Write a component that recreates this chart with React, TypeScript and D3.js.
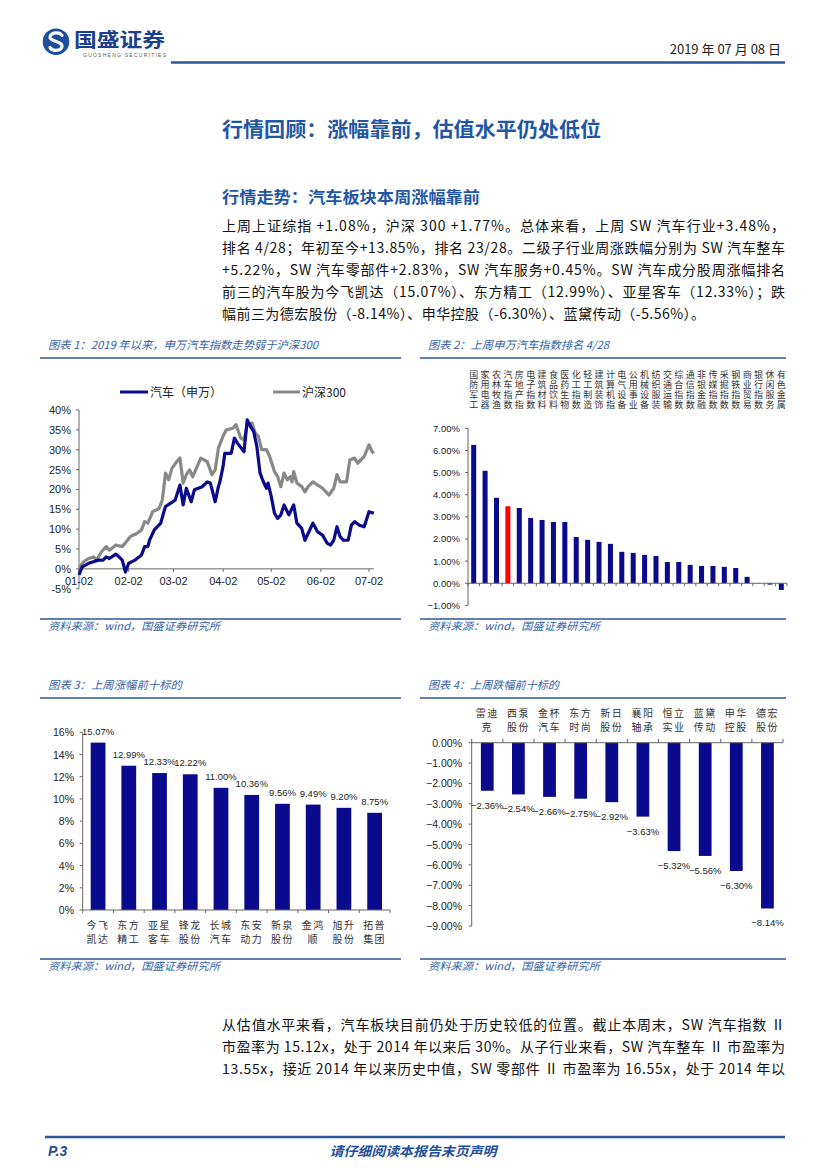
import React from 'react';
import * as d3 from 'd3';

// ---------- Chart 1 data ----------
const autoDates = ["2019-01-02","2019-01-04","2019-01-08","2019-01-11","2019-01-14","2019-01-17","2019-01-19","2019-01-21","2019-01-25","2019-01-27","2019-01-29","2019-01-31","2019-02-02","2019-02-06","2019-02-10","2019-02-12","2019-02-14","2019-02-15","2019-02-18","2019-02-22","2019-02-24","2019-02-25","2019-02-28","2019-03-03","2019-03-06","2019-03-08","2019-03-10","2019-03-13","2019-03-15","2019-03-20","2019-03-23","2019-03-25","2019-03-28","2019-03-30","2019-03-31","2019-04-02","2019-04-03","2019-04-07","2019-04-09","2019-04-11","2019-04-15","2019-04-17","2019-04-19","2019-04-21","2019-04-23","2019-04-25","2019-04-27","2019-04-29","2019-04-30","2019-05-02","2019-05-04","2019-05-06","2019-05-08","2019-05-10","2019-05-12","2019-05-13","2019-05-16","2019-05-18","2019-05-21","2019-05-23","2019-05-25","2019-05-28","2019-05-31","2019-06-03","2019-06-06","2019-06-08","2019-06-10","2019-06-12","2019-06-14","2019-06-16","2019-06-19","2019-06-21","2019-06-23","2019-06-26","2019-06-29","2019-07-02","2019-07-05"];
const autoValues = [-1.5,0.5,1.4,1.8,2.2,2.2,3.0,2.6,3.7,3.0,2.2,-0.8,1.4,2.2,3.5,5.6,5.6,7.2,9.8,11.5,14.4,15.7,16.5,17.3,21.1,16.1,20.3,16.9,19.9,20.7,21.9,21.6,16.9,20.7,22.0,26.0,29.1,29.1,32.9,31.6,29.5,37.5,35.9,34.6,30.8,24.1,22.0,20.3,21.6,18.2,14.0,12.7,13.6,16.1,14.4,13.6,16.1,11.5,10.2,7.2,8.9,11.5,9.3,8.5,6.4,6.0,7.2,10.6,8.1,7.2,7.2,11.0,11.9,11.0,10.6,14.4,14.0];
const hs300Dates = ["2019-01-02","2019-01-05","2019-01-08","2019-01-11","2019-01-13","2019-01-16","2019-01-19","2019-01-21","2019-01-25","2019-01-29","2019-01-31","2019-02-03","2019-02-07","2019-02-10","2019-02-12","2019-02-14","2019-02-17","2019-02-21","2019-02-23","2019-02-25","2019-02-27","2019-03-01","2019-03-04","2019-03-06","2019-03-08","2019-03-10","2019-03-12","2019-03-14","2019-03-19","2019-03-23","2019-03-26","2019-03-28","2019-03-30","2019-04-02","2019-04-04","2019-04-08","2019-04-10","2019-04-13","2019-04-15","2019-04-17","2019-04-20","2019-04-22","2019-04-24","2019-04-26","2019-04-29","2019-05-01","2019-05-04","2019-05-06","2019-05-08","2019-05-10","2019-05-12","2019-05-14","2019-05-15","2019-05-16","2019-05-18","2019-05-21","2019-05-23","2019-05-25","2019-05-28","2019-05-31","2019-06-03","2019-06-07","2019-06-10","2019-06-12","2019-06-14","2019-06-18","2019-06-20","2019-06-23","2019-06-25","2019-06-29","2019-07-02","2019-07-04","2019-07-05"];
const hs300Values = [0.3,1.8,2.6,3.0,2.2,4.3,5.6,4.7,6.0,5.6,6.6,8.1,8.9,9.8,11.9,11.5,14.4,15.2,17.3,24.1,22.4,25.3,27.0,27.9,21.6,23.7,24.9,23.2,27.9,27.0,23.7,24.9,30.4,33.5,35.0,35.4,36.3,32.9,32.5,36.3,36.7,34.2,33.3,30.0,30.0,28.3,24.5,23.2,20.7,24.1,22.4,23.2,21.9,24.5,21.6,20.7,19.4,20.7,21.9,21.1,20.3,18.6,20.3,23.7,21.9,21.9,27.4,27.9,26.6,28.3,31.2,29.5,29.1];
const chart1TickDates = ["2019-01-02","2019-02-02","2019-03-02","2019-04-02","2019-05-02","2019-06-02","2019-07-02"];
const chart1YTicks = [-5, 0, 5, 10, 15, 20, 25, 30, 35, 40];
const chart1Legend = ["汽车（申万）", "沪深300"];

// ---------- Chart 2 data ----------
const industries = ["国防军工","家用电器","农林牧渔","汽车指数","房地产指","电子指数","建筑材料","食品饮料","医药生物","化工指数","轻工制造","建筑装饰","计算机指","电气设备","公用事业","机械设备","纺织服装","交通运输","综合指数","通信指数","非银金融","传媒指数","采掘指数","钢铁指数","商业贸易","银行指数","休闲服务","有色金属"];
const industryReturns = [6.25,5.08,3.86,3.48,3.40,2.95,2.86,2.77,2.77,2.09,1.96,1.87,1.78,1.42,1.37,1.28,1.23,0.96,0.96,0.83,0.78,0.78,0.74,0.69,0.29,0.01,-0.06,-0.30];
const highlightIndustry = "汽车指数";
const chart2YTicks = [-1, 0, 1, 2, 3, 4, 5, 6, 7];

// ---------- Chart 3 data ----------
const gainers = ["今飞凯达","东方精工","亚星客车","锋龙股份","长城汽车","东安动力","新泉股份","金鸿顺","旭升股份","拓普集团"];
const gainerValues = [15.07,12.99,12.33,12.22,11.00,10.36,9.56,9.49,9.20,8.75];
const chart3YTicks = [0, 2, 4, 6, 8, 10, 12, 14, 16];

// ---------- Chart 4 data ----------
const losers = ["雷迪克","西泵股份","金杯汽车","东方时尚","新日股份","襄阳轴承","恒立实业","蓝黛传动","申华控股","德宏股份"];
const loserValues = [-2.36,-2.54,-2.66,-2.75,-2.92,-3.63,-5.32,-5.56,-6.30,-8.14];
const chart4YTicks = [0, -1, -2, -3, -4, -5, -6, -7, -8, -9];

// ---------- Text ----------
const bodyLines = [
  "上周上证综指 +1.08%，沪深 300 +1.77%。总体来看，上周 SW 汽车行业+3.48%，",
  "排名 4/28；年初至今+13.85%，排名 23/28。二级子行业周涨跌幅分别为 SW 汽车整车",
  "+5.22%，SW 汽车零部件+2.83%，SW 汽车服务+0.45%。SW 汽车成分股周涨幅排名",
  "前三的汽车股为今飞凯达（15.07%）、东方精工（12.99%）、亚星客车（12.33%）；跌",
  "幅前三为德宏股份（-8.14%）、申华控股（-6.30%）、蓝黛传动（-5.56%）。",
];
const bottomLines = [
  "从估值水平来看，汽车板块目前仍处于历史较低的位置。截止本周末，SW 汽车指数 Ⅱ",
  "市盈率为 15.12x，处于 2014 年以来后 30%。从子行业来看，SW 汽车整车 Ⅱ 市盈率为",
  "13.55x，接近 2014 年以来历史中值，SW 零部件 Ⅱ 市盈率为 16.55x，处于 2014 年以",
];

const CJK = '"Noto Sans CJK SC", "Noto Sans", sans-serif';
const LAT = '"Liberation Sans", Arial, sans-serif';
const NAVY = '#0A0A8C';
const BLUE = '#2E5597';
const TITLE_BLUE = '#3462A6';
const AXIS = '#666';

const parse = d3.timeParse('%Y-%m-%d');

function SectionFrame({ x0, x1, title, titleLen, yTop, yBottom }: any) {
  return (
    <g>
      <text x={x0 + 8} y={yTop - 9} fontFamily={CJK} fontStyle="italic" fontSize={11} fill={TITLE_BLUE}
        textLength={titleLen} lengthAdjust="spacingAndGlyphs">{title}</text>
      <line x1={x0} x2={x1} y1={yTop} y2={yTop} stroke={BLUE} strokeWidth={1.5} />
      <line x1={x0} x2={x1} y1={yBottom} y2={yBottom} stroke={BLUE} strokeWidth={1.5} />
      <text x={x0 + 8} y={yBottom + 11} fontFamily={CJK} fontStyle="italic" fontSize={10.5} fill={TITLE_BLUE}
        textLength={172} lengthAdjust="spacingAndGlyphs">资料来源：wind，国盛证券研究所</text>
    </g>
  );
}

function Chart1() {
  const x = d3.scaleTime().domain([parse('2019-01-02')!, parse('2019-07-02')!]).range([79, 369]);
  const y = d3.scaleLinear().domain([-5, 40]).range([588.7, 410]);
  const line = d3.line<[Date, number]>().x(d => x(d[0])).y(d => y(d[1]));
  const auto: [Date, number][] = autoDates.map((d, i) => [parse(d)!, autoValues[i]]);
  const hs: [Date, number][] = hs300Dates.map((d, i) => [parse(d)!, hs300Values[i]]);
  const fmt = d3.timeFormat('%m-%d');
  const xEnd = x(parse('2019-07-05')!);
  return (
    <g>
      <line x1={120} x2={148} y1={392} y2={392} stroke={NAVY} strokeWidth={3} />
      <text x={150} y={396.5} fontFamily={CJK} fontSize={12} fill="#222">{chart1Legend[0]}</text>
      <line x1={273} x2={300} y1={392} y2={392} stroke="#888" strokeWidth={3} />
      <text x={302} y={396.5} fontFamily={CJK} fontSize={12} fill="#222">{chart1Legend[1]}</text>
      <line x1={79} x2={79} y1={y(40)} y2={y(-5)} stroke={AXIS} strokeWidth={1} />
      {chart1YTicks.map(t => (
        <g key={t}>
          <line x1={76} x2={79} y1={y(t)} y2={y(t)} stroke={AXIS} />
          <text x={71} y={y(t) + 4} textAnchor="end" fontFamily={LAT} fontSize={11} fill="#222">{t}%</text>
        </g>
      ))}
      <line x1={79} x2={xEnd} y1={y(0)} y2={y(0)} stroke={AXIS} strokeWidth={1} />
      {chart1TickDates.map(d => {
        const dt = parse(d)!;
        return (
          <g key={d}>
            <line x1={x(dt)} x2={x(dt)} y1={y(0)} y2={y(0) + 3} stroke={AXIS} />
            <text x={x(dt)} y={y(0) + 16} textAnchor="middle" fontFamily={LAT} fontSize={11} fill="#222">{fmt(dt)}</text>
          </g>
        );
      })}
      <path d={line(hs)!} fill="none" stroke="#888" strokeWidth={3.2} strokeLinejoin="round" />
      <path d={line(auto)!} fill="none" stroke={NAVY} strokeWidth={3.2} strokeLinejoin="round" />
    </g>
  );
}

function Chart2() {
  const x = d3.scaleBand<string>().domain(industries).range([468, 787]).paddingInner(0.56).paddingOuter(0.28);
  const y = d3.scaleLinear().domain([-1, 7]).range([605.4, 428.3]);
  const step = x.step();
  const f = d3.format('.2f');
  return (
    <g>
      {industries.map(name => {
        const cx = x(name)! + x.bandwidth() / 2;
        return (
          <text key={name} x={cx} y={370.5} fontFamily={CJK} fontSize={9} letterSpacing={1} fill="#333"
            style={{ writingMode: 'vertical-rl' } as any}>{name}</text>
        );
      })}
      <line x1={468} x2={468} y1={y(7)} y2={y(-1)} stroke={AXIS} />
      {chart2YTicks.map(t => (
        <g key={t}>
          <line x1={465} x2={468} y1={y(t)} y2={y(t)} stroke={AXIS} />
          <text x={460} y={y(t) + 3.5} textAnchor="end" fontFamily={LAT} fontSize={9.5} fill="#222">{f(t)}%</text>
        </g>
      ))}
      {industries.map((name, i) => {
        const v = industryReturns[i];
        return (
          <rect key={name} x={x(name)} width={x.bandwidth()} y={y(Math.max(0, v))}
            height={Math.abs(y(v) - y(0))} fill={name === highlightIndustry ? '#FF0000' : NAVY} />
        );
      })}
      <line x1={468} x2={787} y1={y(0)} y2={y(0)} stroke={AXIS} />
      {d3.range(industries.length + 1).map(i => (
        <line key={i} x1={468 + i * step} x2={468 + i * step} y1={y(0)} y2={y(0) + 3} stroke={AXIS} />
      ))}
    </g>
  );
}

function TwoLineLabel({ cx, y, name }: any) {
  return (
    <text textAnchor="middle" fontFamily={CJK} fontSize={10} letterSpacing={1.5} fill="#333">
      <tspan x={cx} y={y}>{name.slice(0, 2)}</tspan>
      <tspan x={cx} dy={13.5}>{name.slice(2)}</tspan>
    </text>
  );
}

function Chart3() {
  const x = d3.scaleBand<string>().domain(gainers).range([82.7, 390]).paddingInner(0.52).paddingOuter(0.26);
  const y = d3.scaleLinear().domain([0, 16]).range([910, 732.3]);
  const step = x.step();
  const f = d3.format('.2f');
  return (
    <g>
      <line x1={82.7} x2={82.7} y1={y(16)} y2={y(0)} stroke={AXIS} />
      {chart3YTicks.map(t => (
        <g key={t}>
          <line x1={79.7} x2={82.7} y1={y(t)} y2={y(t)} stroke={AXIS} />
          <text x={74} y={y(t) + 4} textAnchor="end" fontFamily={LAT} fontSize={10.5} fill="#222">{t}%</text>
        </g>
      ))}
      {gainers.map((name, i) => {
        const v = gainerValues[i];
        const cx = x(name)! + x.bandwidth() / 2;
        return (
          <g key={name}>
            <rect x={x(name)} width={x.bandwidth()} y={y(v)} height={y(0) - y(v)} fill={NAVY} />
            <text x={cx} y={y(v) - 8} textAnchor="middle" fontFamily={LAT} fontSize={9.5} fill="#222">{f(v)}%</text>
            <TwoLineLabel cx={cx} y={929} name={name} />
          </g>
        );
      })}
      <line x1={82.7} x2={390} y1={y(0)} y2={y(0)} stroke={AXIS} />
      {d3.range(gainers.length + 1).map(i => (
        <line key={i} x1={82.7 + i * step} x2={82.7 + i * step} y1={y(0)} y2={y(0) + 3} stroke={AXIS} />
      ))}
    </g>
  );
}

function Chart4() {
  const x = d3.scaleBand<string>().domain(losers).range([471.7, 783]).paddingInner(0.59).paddingOuter(0.295);
  const y = d3.scaleLinear().domain([-9, 0]).range([926, 742.7]);
  const step = x.step();
  const f = d3.format('.2f');
  return (
    <g>
      <line x1={471.7} x2={471.7} y1={y(0)} y2={y(-9)} stroke={AXIS} />
      {chart4YTicks.map(t => (
        <g key={t}>
          <line x1={468.7} x2={471.7} y1={y(t)} y2={y(t)} stroke={AXIS} />
          <text x={462} y={y(t) + 4} textAnchor="end" fontFamily={LAT} fontSize={10.5} fill="#222">{f(t)}%</text>
        </g>
      ))}
      {losers.map((name, i) => {
        const v = loserValues[i];
        const cx = x(name)! + x.bandwidth() / 2;
        return (
          <g key={name}>
            <rect x={x(name)} width={x.bandwidth()} y={y(0)} height={y(v) - y(0)} fill={NAVY} />
            <text x={cx} y={y(v) + 18} textAnchor="middle" fontFamily={LAT} fontSize={9.5} fill="#222">{f(v)}%</text>
            <TwoLineLabel cx={cx} y={717} name={name} />
          </g>
        );
      })}
      <line x1={471.7} x2={783} y1={y(0)} y2={y(0)} stroke={AXIS} />
      {d3.range(losers.length + 1).map(i => (
        <line key={i} x1={471.7 + i * step} x2={471.7 + i * step} y1={y(0) - 4} y2={y(0)} stroke={AXIS} />
      ))}
    </g>
  );
}

export default function App() {
  return (
    <svg width={827} height={1170} viewBox="0 0 827 1170"
      style={{ position: 'absolute', left: 0, top: 0, background: '#fff' }}>
      <rect x={0} y={0} width={827} height={1170} fill="#fff" />
      {/* Header */}
      <circle cx={56} cy={41.7} r={13.3} fill="#1B4E9B" />
      <path d="M62,35.5 C59.5,31.5 51,32 50,37 C49,41.5 63,41 62,46.5 C61,51.5 52,51.5 50,47.5"
        fill="none" stroke="#fff" strokeWidth={3.2} strokeLinecap="round" />
      <text x={74} y={47} fontFamily={CJK} fontWeight="bold" fontSize={19} fill="#1B3F8F"
        textLength={91} lengthAdjust="spacingAndGlyphs">国盛证券</text>
      <text x={83} y={57} fontFamily={LAT} fontSize={5} fill="#555" textLength={83} lengthAdjust="spacing">GUOSHENG SECURITIES</text>
      <text x={781} y={54} textAnchor="end" fontFamily={CJK} fontSize={13} fill="#222">2019 年 07 月 08 日</text>
      <line x1={171} x2={785} y1={62.5} y2={62.5} stroke={BLUE} strokeWidth={2.5} />

      {/* Headings */}
      <text x={222} y={137} fontFamily={CJK} fontWeight="bold" fontSize={20} fill="#1F56A5"
        textLength={379} lengthAdjust="spacingAndGlyphs">行情回顾：涨幅靠前，估值水平仍处低位</text>
      <text x={222} y={203} fontFamily={CJK} fontWeight="bold" fontSize={16} fill="#1F56A5"
        textLength={258} lengthAdjust="spacingAndGlyphs">行情走势：汽车板块本周涨幅靠前</text>

      {bodyLines.map((l, i) => (
        <text key={i} x={222} y={231 + i * 22} fontFamily={CJK} fontSize={14} fill="#111"
          textLength={i === bodyLines.length - 1 ? 483 : 563} lengthAdjust="spacing">{l}</text>
      ))}

      <SectionFrame x0={40} x1={401} title="图表 1：2019 年以来，申万汽车指数走势弱于沪深300" titleLen={270} yTop={358} yBottom={619} />
      <SectionFrame x0={420} x1={786} title="图表 2：上周申万汽车指数排名 4/28" titleLen={181} yTop={358} yBottom={619} />
      <SectionFrame x0={40} x1={401} title="图表 3：上周涨幅前十标的" titleLen={134} yTop={698} yBottom={959} />
      <SectionFrame x0={420} x1={786} title="图表 4：上周跌幅前十标的" titleLen={131} yTop={698} yBottom={959} />

      <Chart1 />
      <Chart2 />
      <Chart3 />
      <Chart4 />

      {bottomLines.map((l, i) => (
        <text key={i} x={222} y={1030 + i * 22} fontFamily={CJK} fontSize={14} fill="#111"
          textLength={563} lengthAdjust="spacing">{l}</text>
      ))}

      {/* Footer */}
      <line x1={45} x2={785} y1={1137} y2={1137} stroke={BLUE} strokeWidth={2.5} />
      <text x={48} y={1156} fontFamily={LAT} fontWeight="bold" fontStyle="italic" fontSize={14} fill="#1F4E9A">P.3</text>
      <text x={413} y={1156} textAnchor="middle" fontFamily={CJK} fontWeight="bold" fontStyle="italic" fontSize={13}
        fill="#1F4E9A" textLength={167} lengthAdjust="spacingAndGlyphs">请仔细阅读本报告末页声明</text>
    </svg>
  );
}
